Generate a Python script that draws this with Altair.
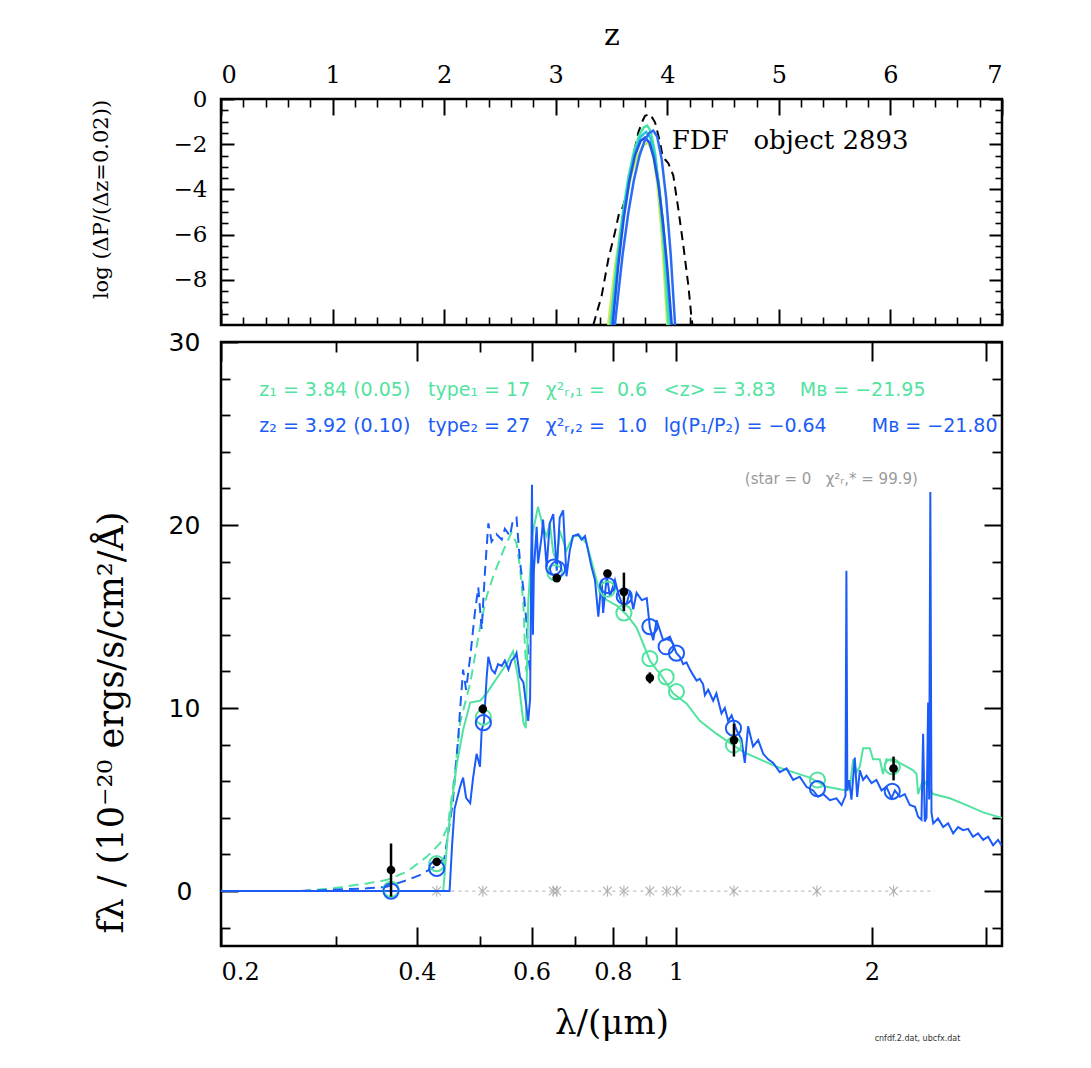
import altair as alt
import pandas as pd

# ---------------- upper panel: redshift probability curves ----------------
z_dash = [3.337, 3.412, 3.472, 3.531, 3.570, 3.600, 3.625, 3.651, 3.696, 3.741, 3.780, 3.801,
          3.845, 3.890, 3.935, 3.960, 3.985, 4.010, 4.054, 4.099, 4.144, 4.189, 4.218, 4.226]
p_dash = [-10.0, -8.7, -7.08, -5.9, -5.0, -4.8, -4.4, -3.83, -2.5, -1.47, -0.95, -0.74,
          -0.66, -1.03, -1.92, -2.6, -2.7, -2.85, -3.39, -4.87, -6.49, -8.26, -9.73, -10.0]

z_yel = [3.47, 3.53, 3.58, 3.63, 3.68, 3.73, 3.78, 3.83, 3.87, 3.91, 3.95, 4.00]
p_yel = [-10.0, -7.5, -5.8, -4.41, -3.32, -2.54, -2.08, -1.92, -2.37, -3.71, -5.95, -10.0]

z_teal = [3.49, 3.55, 3.60, 3.65, 3.70, 3.75, 3.79, 3.82, 3.85, 3.89, 3.93, 3.97, 4.01]
p_teal = [-10.0, -7.1, -5.1, -3.5, -2.35, -1.58, -1.25, -1.18, -1.4, -2.38, -4.13, -6.67, -10.0]

z_cyan = [3.50, 3.56, 3.61, 3.66, 3.71, 3.76, 3.81, 3.85, 3.89, 3.93, 3.97, 4.03]
p_cyan = [-10.0, -7.0, -5.0, -3.45, -2.34, -1.67, -1.45, -1.73, -2.58, -4.0, -5.98, -10.0]

z_blue1 = [3.53, 3.60, 3.65, 3.70, 3.75, 3.80, 3.84, 3.875, 3.91, 3.95, 3.99, 4.03, 4.07]
p_blue1 = [-10.0, -6.87, -5.06, -3.61, -2.53, -1.81, -1.49, -1.40, -1.68, -2.67, -4.39, -6.83, -10.0]

z_blue2 = [3.51, 3.56, 3.61, 3.66, 3.71, 3.76, 3.80, 3.84, 3.88, 3.92, 3.96, 4.00, 4.04]
p_blue2 = [-10.0, -7.39, -5.26, -3.63, -2.5, -1.86, -1.70, -1.93, -2.62, -3.77, -5.39, -7.46, -10.0]

# ---------------- lower panel: SED ----------------
lam_b = [0.200, 0.449, 0.453, 0.457, 0.466, 0.471, 0.476, 0.483, 0.488, 0.494, 0.500, 0.503,
         0.507, 0.512, 0.515, 0.521, 0.527, 0.533, 0.540, 0.546, 0.553, 0.559, 0.566, 0.569,
         0.576, 0.583, 0.590, 0.593, 0.597, 0.601, 0.603, 0.605, 0.611, 0.614, 0.622, 0.625,
         0.633, 0.640, 0.648, 0.656, 0.663, 0.671, 0.679, 0.687, 0.695, 0.708, 0.716, 0.725,
         0.733, 0.742, 0.751, 0.760, 0.769, 0.773, 0.783, 0.792, 0.806, 0.815, 0.830, 0.840,
         0.850, 0.860, 0.870, 0.886, 0.902, 0.912, 0.923, 0.934, 0.956, 0.979, 1.002, 1.014,
         1.026, 1.038, 1.051, 1.063, 1.076, 1.088, 1.101, 1.108, 1.121, 1.141, 1.154, 1.175,
         1.189, 1.203, 1.218, 1.239, 1.261, 1.276, 1.291, 1.314, 1.338, 1.362, 1.386, 1.411,
         1.444, 1.479, 1.514, 1.550, 1.587, 1.625, 1.654, 1.684, 1.724, 1.765, 1.797, 1.822,
         1.828, 1.834, 1.846, 1.861, 1.883, 1.899, 1.917, 1.939, 1.963, 1.998, 2.033, 2.070,
         2.106, 2.144, 2.170, 2.208, 2.247, 2.288, 2.330, 2.356, 2.384, 2.398, 2.412, 2.427,
         2.441, 2.450, 2.460, 2.470, 2.485, 2.528, 2.574, 2.620, 2.667, 2.714, 2.762, 2.812,
         2.861, 2.912, 2.966, 3.018, 3.072, 3.126, 3.164]
f_b = [0.0, 0.0, 2.5, 4.5, 5.7, 6.2, 5.1, 4.8, 6.2, 7.5, 6.8, 8.8,
       9.2, 11.7, 12.8, 12.1, 11.9, 12.4, 12.3, 12.6, 12.1, 12.6, 12.8, 13.0,
       11.7, 11.4, 9.9, 9.3, 10.5, 22.2, 14.0, 17.5, 19.9, 17.9, 19.4, 20.3,
       17.7, 20.1, 20.6, 17.5, 20.4, 20.8, 17.2, 18.6, 19.4, 19.5, 19.2, 19.4,
       18.6, 17.7, 17.0, 15.0, 17.0, 15.2, 17.2, 16.1, 17.0, 16.3, 15.5, 15.7,
       16.4, 15.4, 16.3, 15.9, 16.0, 14.4, 13.7, 14.8, 13.7, 13.9, 13.0, 12.8,
       12.4, 12.5, 12.1, 11.8, 11.5, 11.6, 11.3, 10.7, 11.0, 10.4, 10.8, 9.7,
       10.0, 9.3, 9.6, 8.8, 8.3, 7.0, 9.0, 7.9, 8.25, 7.5, 7.2, 7.0,
       6.5, 6.7, 6.07, 6.25, 5.7, 5.5, 5.15, 5.3, 4.97, 5.07, 4.7, 5.2,
       17.5, 5.5, 6.07, 5.0, 7.3, 5.15, 6.6, 6.07, 6.3, 5.9, 6.07, 5.5,
       5.7, 5.07, 5.5, 5.15, 5.3, 4.7, 4.6, 4.06, 3.9, 8.6, 3.8, 4.0,
       10.3, 5.0, 21.8, 4.3, 3.7, 3.97, 3.5, 3.7, 3.15, 3.5, 3.33, 3.4,
       2.97, 3.15, 2.8, 2.97, 2.5, 2.8, 2.5]

lam_bd = [0.200, 0.264, 0.335, 0.359, 0.386, 0.404, 0.424, 0.441, 0.454, 0.463, 0.466, 0.471,
          0.476, 0.483, 0.491, 0.497, 0.503, 0.509, 0.515, 0.521, 0.530, 0.540, 0.546, 0.556,
          0.562, 0.569, 0.576, 0.583, 0.589, 0.593, 0.597]
f_bd = [0.0, 0.0, 0.15, 0.23, 0.6, 0.87, 1.3, 1.8, 4.8, 8.4, 9.9, 12.1,
        11.0, 12.8, 15.2, 16.6, 14.3, 17.5, 20.1, 19.1, 19.5, 19.2, 19.8, 19.4,
        20.3, 20.4, 18.0, 16.5, 14.8, 13.0, 12.0]

lam_g = [0.200, 0.439, 0.446, 0.453, 0.461, 0.471, 0.483, 0.500, 0.512, 0.524, 0.537, 0.549,
         0.562, 0.572, 0.583, 0.588, 0.593, 0.602, 0.614, 0.625, 0.633, 0.640, 0.648, 0.656,
         0.663, 0.679, 0.695, 0.712, 0.729, 0.746, 0.764, 0.783, 0.811, 0.840, 0.870, 0.891,
         0.912, 0.934, 0.945, 0.990, 1.038, 1.088, 1.154, 1.210, 1.269, 1.346, 1.428, 1.514,
         1.606, 1.704, 1.828, 1.850, 1.872, 1.895, 1.917, 1.939, 1.986, 2.009, 2.057, 2.081,
         2.106, 2.208, 2.315, 2.343, 2.356, 2.398, 2.485, 2.636, 2.796, 2.966, 3.168]
f_g = [0.0, 0.0, 3.0, 5.0, 7.0, 8.8, 10.3, 10.4, 10.8, 11.35, 11.9, 12.4,
       13.1, 11.7, 9.2, 8.9, 15.7, 19.5, 21.0, 19.9, 19.4, 20.1, 18.5, 18.0,
       19.7, 18.6, 19.4, 19.4, 19.0, 17.7, 16.3, 15.9, 15.6, 15.1, 14.4, 13.5,
       12.6, 12.1, 11.9, 10.8, 10.25, 9.3, 8.6, 8.1, 7.6, 7.2, 6.8, 6.5,
       6.2, 5.7, 5.5, 5.6, 7.2, 6.5, 6.8, 7.8, 7.8, 7.2, 7.2, 6.4,
       7.2, 7.0, 6.6, 6.4, 5.3, 6.1, 5.3, 5.07, 4.7, 4.3, 4.0]

lam_gd = [0.200, 0.264, 0.297, 0.335, 0.359, 0.386, 0.414, 0.434, 0.446, 0.458, 0.466, 0.483,
          0.500, 0.512, 0.524, 0.543, 0.559, 0.569, 0.576, 0.583, 0.586, 0.589]
f_gd = [0.0, 0.0, 0.15, 0.42, 0.6, 1.05, 1.87, 2.6, 3.5, 6.6, 9.2, 11.35,
        14.4, 16.1, 17.2, 18.6, 19.6, 19.0, 17.7, 15.7, 13.5, 12.0]

obs_lam = [0.365, 0.429, 0.505, 0.656, 0.785, 0.832, 0.912, 1.228, 2.160]
obs_f = [1.15, 1.6, 9.95, 17.1, 17.35, 16.35, 11.65, 8.25, 6.7]
obs_err = [1.45, 0.2, 0.25, 0.2, 0.2, 1.05, 0.3, 0.9, 0.65]

bc_lam = [0.365, 0.429, 0.506, 0.649, 0.658, 0.785, 0.833, 0.912, 0.966, 1.002, 1.226, 1.650, 2.150]
bc_f = [0.0, 1.24, 9.2, 17.7, 17.6, 16.7, 16.1, 14.45, 13.35, 13.0, 8.9, 5.6, 5.45]
gc_lam = [0.365, 0.429, 0.506, 0.652, 0.785, 0.832, 0.912, 0.966, 1.002, 1.226, 1.650, 2.150]
gc_f = [0.1, 1.5, 9.5, 17.4, 16.5, 15.2, 12.7, 11.7, 10.9, 7.98, 6.07, 6.8]

star_lam = [0.429, 0.505, 0.648, 0.656, 0.785, 0.832, 0.912, 0.968, 1.003, 1.228, 1.647, 2.160]
star_f = [0.0] * len(star_lam)
star_line_lam = [0.43, 2.50]

GREEN = "#52e3a0"
BLUE = "#1b5cf8"
GREY = "#9a9a9a"
NB = "\u00a0"

LAM = alt.Scale(type="log", domain=[0.2, 3.17], nice=False)
FLX = alt.Scale(domain=[-3, 30], nice=False, zero=False)
ZS = alt.Scale(domain=[0, 7], nice=False, zero=False)
PS = alt.Scale(domain=[-10, 0], nice=False, zero=False)


def line(xs, ys, xs_scale, ys_scale, color, width=2.0, dash=None):
    df = pd.DataFrame({"x": xs, "y": ys, "i": list(range(len(xs)))})
    kw = dict(color=color, strokeWidth=width, clip=True)
    if dash:
        kw["strokeDash"] = dash
    return alt.Chart(df).mark_line(**kw).encode(
        x=alt.X("x:Q", scale=xs_scale, axis=None),
        y=alt.Y("y:Q", scale=ys_scale, axis=None),
        order="i:Q",
    )


def ax(ch, xsc, ysc, xv, yv, orient, values, size=0, width=2.0, **extra):
    """Invisible layer carrying one axis (labels or inward ticks) of a panel."""
    props = dict(orient=orient, values=values, domain=False, grid=False, labels=False, title="")
    if size > 0:
        props.update(ticks=True, tickSize=size, tickWidth=width, tickColor="black", offset=-size)
    else:
        props.update(ticks=False, tickSize=0)
    props.update(extra)
    df = pd.DataFrame({"x": [xv], "y": [yv]})
    if ch == "x":
        enc = dict(x=alt.X("x:Q", scale=xsc, axis=alt.Axis(**props)),
                   y=alt.Y("y:Q", scale=ysc, axis=None))
    else:
        enc = dict(x=alt.X("x:Q", scale=xsc, axis=None),
                   y=alt.Y("y:Q", scale=ysc, axis=alt.Axis(**props)))
    return alt.Chart(df).mark_point(opacity=0).encode(**enc)


def tax(ch, orient, values, size=0, width=2.0, **extra):
    return ax(ch, ZS, PS, 1.0, -5.0, orient, values, size, width, **extra)


def max_(ch, orient, values, size=0, width=2.0, **extra):
    return ax(ch, LAM, FLX, 1.0, 5.0, orient, values, size, width, **extra)


# ---------- upper panel ----------
z_major = [0, 1, 2, 3, 4, 5, 6, 7]
z_minor = [round(0.2 * k, 1) for k in range(36) if k % 5 != 0]
p_major = [0, -2, -4, -6, -8]
p_minor = [-0.5 * k for k in range(21) if k % 4 != 0]

top_layers = [
    line(z_dash, p_dash, ZS, PS, "black", 2.0, [9, 6]),
    line(z_yel, p_yel, ZS, PS, "#c8ef5a", 2.5),
    line(z_teal, p_teal, ZS, PS, "#45e6a5", 2.5),
    line(z_cyan, p_cyan, ZS, PS, "#2bc4dd", 2.5),
    line(z_blue2, p_blue2, ZS, PS, "#1e55e8", 2.5),
    line(z_blue1, p_blue1, ZS, PS, "#2a6cf5", 2.5),
    alt.Chart(pd.DataFrame({"x": [4.04], "y": [-1.85], "t": ["FDF" + NB * 3 + "object 2893"]}))
    .mark_text(align="left", baseline="middle", font="DejaVu Serif", fontSize=26, color="black")
    .encode(x=alt.X("x:Q", scale=ZS, axis=None), y=alt.Y("y:Q", scale=PS, axis=None), text="t:N"),
    tax("x", "top", z_major, labels=True, format="d", labelFont="DejaVu Serif",
        labelFontSize=24, labelPadding=12, title="z", titleFont="DejaVu Serif",
        titleFontSize=30, titlePadding=13),
    tax("x", "top", z_major, 16),
    tax("x", "top", z_minor, 8, 1.6),
    tax("x", "bottom", z_major, 16),
    tax("x", "bottom", z_minor, 8, 1.6),
    tax("y", "left", p_major, labels=True, format="d", labelFont="DejaVu Serif",
        labelFontSize=23, labelPadding=14, title="log (ΔP/(Δz=0.02))",
        titleFont="DejaVu Serif", titleFontSize=21, titleX=-120, titleY=100,
        titleAngle=270, titleBaseline="middle", titleAlign="center"),
    tax("y", "left", p_major, 13),
    tax("y", "left", p_minor, 7, 1.6),
    tax("y", "right", p_major, 13),
    tax("y", "right", p_minor, 7, 1.6),
]
top = alt.layer(*top_layers).resolve_axis(x="independent", y="independent").properties(
    width=781, height=226)

# ---------- lower panel ----------
x_major = [0.2, 0.4, 0.6, 0.8, 1, 2, 3]
x_minor = [0.3, 0.5, 0.7, 0.9]
x_labels = [0.2, 0.4, 0.6, 0.8, 1, 2]
f_major = [0, 10, 20, 30]
f_minor = [-2, 2, 4, 6, 8, 12, 14, 16, 18, 22, 24, 26, 28]

enc_xy = dict(x=alt.X("x:Q", scale=LAM, axis=None), y=alt.Y("y:Q", scale=FLX, axis=None))

zero_line = alt.Chart(pd.DataFrame({"x": [star_line_lam[0]], "x2": [star_line_lam[1]], "y": [0.0]})).mark_rule(
    color="#bdbdbd", strokeWidth=1.3, strokeDash=[3, 4]).encode(
    x=alt.X("x:Q", scale=LAM, axis=None), x2="x2:Q", y=alt.Y("y:Q", scale=FLX, axis=None))

stars = alt.Chart(pd.DataFrame({"x": star_lam, "y": star_f})).mark_point(
    shape="M-1,-1L1,1M-1,1L1,-1M0,-1.3L0,1.3", size=75, color=GREY, strokeWidth=1.2,
    filled=False).encode(**enc_xy)

green_circ = alt.Chart(pd.DataFrame({"x": gc_lam, "y": gc_f})).mark_point(
    shape="circle", filled=False, size=230, color=GREEN, strokeWidth=2, opacity=1).encode(**enc_xy)
blue_circ = alt.Chart(pd.DataFrame({"x": bc_lam, "y": bc_f})).mark_point(
    shape="circle", filled=False, size=230, color=BLUE, strokeWidth=2, opacity=1).encode(**enc_xy)

obs_df = pd.DataFrame({"x": obs_lam, "y": obs_f,
                       "lo": [a - b for a, b in zip(obs_f, obs_err)],
                       "hi": [a + b for a, b in zip(obs_f, obs_err)]})
err = alt.Chart(obs_df).mark_rule(color="black", strokeWidth=2.5).encode(
    x=alt.X("x:Q", scale=LAM, axis=None), y=alt.Y("lo:Q", scale=FLX, axis=None), y2="hi:Q")
obs = alt.Chart(obs_df).mark_circle(size=75, color="black", opacity=1).encode(**enc_xy)

ann = pd.DataFrame({
    "x": [0.229, 0.416, 0.631, 0.958, 1.550, 0.229, 0.416, 0.631, 0.958, 2.000, 1.276, 2.02],
    "y": [27.4, 27.4, 27.4, 27.4, 27.4, 25.4, 25.4, 25.4, 25.4, 25.4, 22.5, -8.1],
    "t": ["z₁ = 3.84 (0.05)", "type₁ = 17", "χ²ᵣ,₁ =" + NB * 2 + "0.6", "<z> = 3.83", "Mʙ = −21.95",
          "z₂ = 3.92 (0.10)", "type₂ = 27", "χ²ᵣ,₂ =" + NB * 2 + "1.0", "lg(P₁/P₂) = −0.64", "Mʙ = −21.80",
          "(star = 0" + NB * 3 + "χ²ᵣ,* = 99.9)", "cnfdf.2.dat, ubcfx.dat"],
    "c": [GREEN] * 5 + [BLUE] * 5 + [GREY, "#333333"],
    "s": [19] * 10 + [15, 8],
})
ann_layer = alt.Chart(ann).mark_text(align="left", baseline="middle", font="DejaVu Sans").encode(
    x=alt.X("x:Q", scale=LAM, axis=None), y=alt.Y("y:Q", scale=FLX, axis=None),
    text="t:N", color=alt.Color("c:N", scale=None), size=alt.Size("s:Q", scale=None))

main_layers = [
    zero_line, stars,
    line(lam_gd, f_gd, LAM, FLX, GREEN, 2.0, [10, 6]),
    line(lam_bd, f_bd, LAM, FLX, BLUE, 2.0, [10, 6]),
    line(lam_g, f_g, LAM, FLX, GREEN, 2.0),
    line(lam_b, f_b, LAM, FLX, BLUE, 2.0),
    green_circ, blue_circ, err, obs, ann_layer,
    max_("x", "bottom", x_labels, labels=True, format="~g", labelFont="DejaVu Serif",
         labelFontSize=24, labelPadding=14, title="λ/(μm)", titleFont="DejaVu Serif",
         titleFontSize=34, titlePadding=22),
    max_("x", "bottom", x_major, 19),
    max_("x", "bottom", x_minor, 10, 1.8),
    max_("x", "top", x_major, 19),
    max_("x", "top", x_minor, 10, 1.8),
    max_("y", "left", f_major, labels=True, format="d", labelFont="DejaVu Sans",
         labelFontSize=25, labelPadding=37, labelAlign="center",
         title="fλ / (10⁻²⁰ ergs/s/cm²/Å)", titleFont="DejaVu Serif", titleFontSize=35,
         titleX=-110, titleY=380, titleAngle=270, titleBaseline="middle", titleAlign="center"),
    max_("y", "left", f_major, 17),
    max_("y", "left", f_minor, 9, 1.8),
    max_("y", "right", f_major, 18),
    max_("y", "right", f_minor, 10, 1.8),
]
main = alt.layer(*main_layers).resolve_axis(x="independent", y="independent").properties(
    width=781, height=604)

chart = (
    alt.vconcat(top, main, spacing=0)
    .properties(padding={"left": 80, "top": 10, "right": 10, "bottom": 5}, background="white")
    .configure_view(stroke="black", strokeWidth=2.5)
    .configure_axis(labelColor="black", titleColor="black", titleFontWeight="normal")
)
chart.save("out.html", embed_options={"renderer": "svg", "actions": False})
